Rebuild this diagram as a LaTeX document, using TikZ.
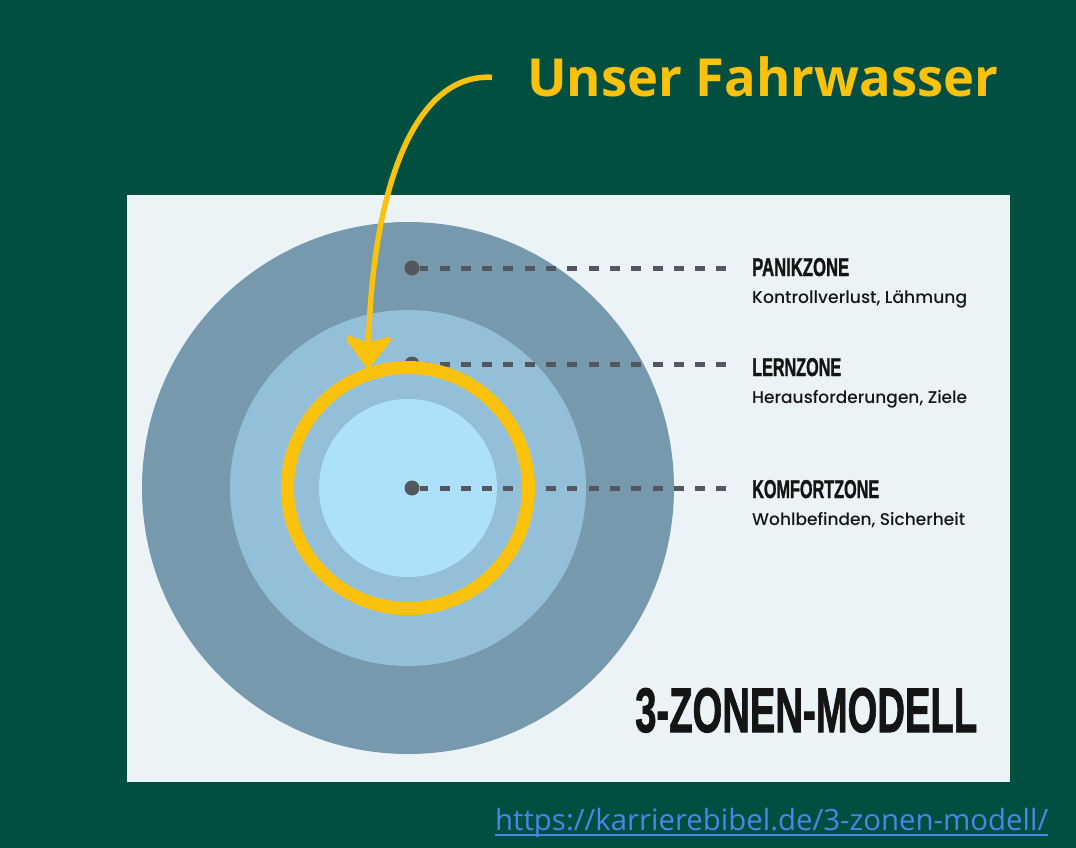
\documentclass[tikz,border=0pt]{standalone}
\usepackage{fontspec}
\usepackage{graphicx}
\usetikzlibrary{arrows.meta}
\setmainfont{Open Sans}
\newfontfamily\condfont{Liberation Sans}[UprightFont={* Bold},UprightFeatures={FakeBold=1.6}]
\newfontfamily\subfont{Poppins}[UprightFont={* Medium}]
\definecolor{bgc}{HTML}{014F40}
\definecolor{panelc}{HTML}{EBF3F6}
\definecolor{outerc}{HTML}{7799AE}
\definecolor{middlec}{HTML}{93BFD8}
\definecolor{innerc}{HTML}{ADE1FB}
\definecolor{yellowc}{HTML}{FBC20D}
\definecolor{dotc}{HTML}{53585E}
\definecolor{urlc}{HTML}{4A86E8}
\definecolor{textc}{HTML}{141414}
\begin{document}
\begin{tikzpicture}[x=1pt,y=-1pt,
  zonedot/.style={circle,fill=dotc,minimum size=15pt,inner sep=0pt},
  leader/.style={line width=5pt,draw=dotc,dash pattern=on 10pt off 11.3pt,dash phase=1.5pt},
  zonehead/.style={anchor=base west,inner sep=0pt,text=textc,font=\condfont},
  zonesub/.style={anchor=base west,inner sep=0pt,text=textc,font=\subfont},
  ringline/.style={draw=yellowc,line width=13pt},
  bigarrow/.style={draw=yellowc,line width=5.5pt,line join=round,-{Stealth[length=36pt,width=54pt,inset=9pt,round]}}
]
\useasboundingbox (0,0) rectangle (1076,848);
\fill[bgc] (0,0) rectangle (1076,848);
\fill[panelc] (127,195) rectangle (1010,782);
\fill[outerc] (408,488) circle (266pt);
\fill[middlec] (408,488) circle (178pt);
\fill[innerc] (408,488) circle (89pt);

\node[zonedot] (d1) at (412,268) {};
\node[zonedot] (d2) at (412,364) {};
\node[zonedot] (d3) at (412,488) {};
\coordinate (e1) at (726,268);
\coordinate (e2) at (726,364);
\coordinate (e3) at (726,488);
\draw[leader] (d1) -- (e1);
\draw[leader] (d2) -- (e2);
\draw[leader] (d3) -- (e3);

\node[zonehead] (panik) at (752,276) {\resizebox{97pt}{18pt}{PANIKZONE}};
\node[zonesub] (paniksub) at (752,303) {\resizebox{215pt}{!}{Kontrollverlust, Lähmung}};
\node[zonehead] (lern) at (752,376) {\resizebox{89pt}{18pt}{LERNZONE}};
\node[zonesub] (lernsub) at (752,403) {\resizebox{215pt}{!}{Herausforderungen, Ziele}};
\node[zonehead] (komfort) at (752,498) {\resizebox{127pt}{18pt}{KOMFORTZONE}};
\node[zonesub] (komfortsub) at (752,525) {\resizebox{213pt}{!}{Wohlbefinden, Sicherheit}};
\node[zonehead] (modell) at (635,732) {\resizebox{342pt}{44pt}{3-ZONEN-MODELL}};

\draw[ringline] (408,488) circle (120.5pt);

\node[anchor=base west,inner sep=0pt,text=yellowc,font=\bfseries] (title) at (527,97) {\resizebox{471pt}{!}{Unser Fahrwasser}};
\coordinate (tip) at (368,368);
\draw[bigarrow] ([xshift=-35pt]title.west) .. controls (410,73) and (372,200) .. (tip);

\node[anchor=base west,inner sep=0pt,text=urlc] (url) at (495,830) {\resizebox{553pt}{!}{https://karrierebibel.de/3-zonen-modell/}};
\draw[urlc,line width=2pt] ([yshift=-5pt]url.base west) -- ([yshift=-5pt]url.base east);
\end{tikzpicture}
\end{document}
